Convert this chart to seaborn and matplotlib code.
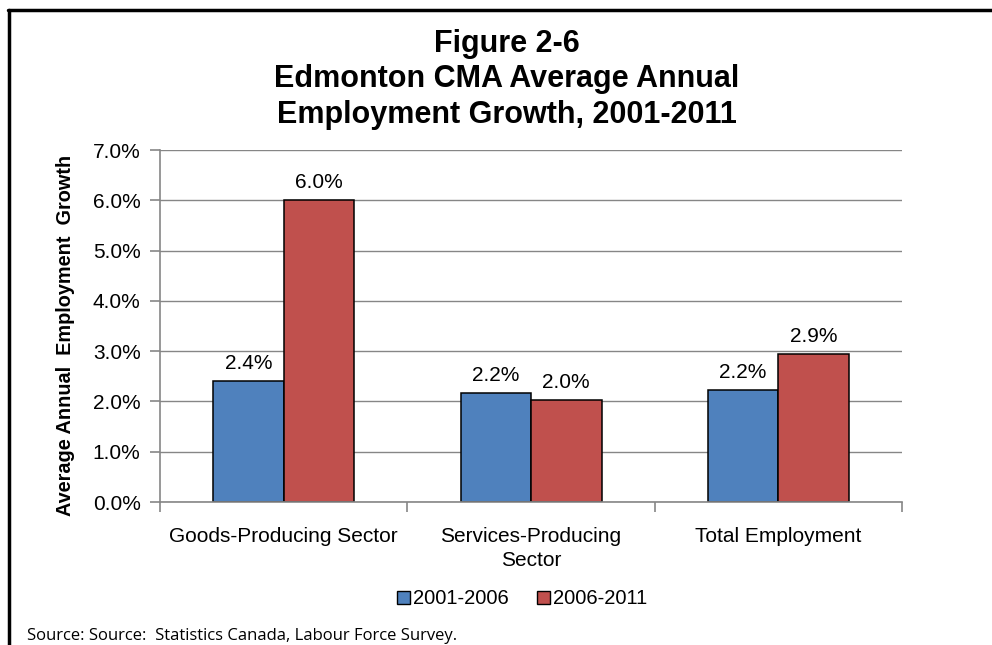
import matplotlib
matplotlib.use("Agg")
import matplotlib.pyplot as plt
from matplotlib.lines import Line2D
from matplotlib.ticker import FuncFormatter, FixedLocator
import seaborn as sns
import pandas as pd

# Employment growth data (percent per year)
sectors = ["Goods-Producing Sector", "Services-Producing\nSector", "Total Employment"]
periods = ["2001-2006", "2006-2011"]
growth_2001_2006 = [2.4, 2.17, 2.23]
growth_2006_2011 = [6.0, 2.03, 2.94]
y_ticks = [0, 1, 2, 3, 4, 5, 6, 7]

df = pd.DataFrame({
    "Sector": sectors * 2,
    "Period": [periods[0]] * 3 + [periods[1]] * 3,
    "Growth": growth_2001_2006 + growth_2006_2011,
})

sns.set_theme(style="white")
plt.rcParams["font.family"] = ["Liberation Sans", "DejaVu Sans"]
plt.rcParams["text.color"] = "black"
plt.rcParams["axes.labelcolor"] = "black"

fig = plt.figure(figsize=(9.92, 6.45), dpi=100)
ax = fig.add_axes([0.1613, 0.2217, 0.7480, 0.5457])

palette = {"2001-2006": "#4F81BD", "2006-2011": "#C0504D"}
sns.barplot(data=df, x="Sector", y="Growth", hue="Period", order=sectors,
            hue_order=periods, palette=palette, width=0.57, saturation=1,
            edgecolor="black", linewidth=1.1, ax=ax, legend=True)

ax.set_ylim(0, 7)
ax.set_xlim(-0.5, 2.5)
ax.yaxis.set_major_locator(FixedLocator(y_ticks))
ax.yaxis.set_major_formatter(FuncFormatter(lambda v, _: f"{v:.1f}%"))
ax.grid(axis="y", color="#868686", linewidth=1.0)
ax.set_axisbelow(True)

for side in ["top", "right"]:
    ax.spines[side].set_visible(False)
for side in ["left", "bottom"]:
    ax.spines[side].set_color("#868686")
    ax.spines[side].set_linewidth(1.2)

ax.tick_params(axis="y", which="major", length=7, width=1.2, color="#868686",
               labelsize=15, pad=7, left=True, labelcolor="black")
ax.tick_params(axis="x", which="major", length=0, labelsize=15, pad=18,
               labelcolor="black")
ax.set_xticks([-0.5, 0.5, 1.5, 2.5], minor=True)
ax.tick_params(axis="x", which="minor", length=7, width=1.2, color="#868686",
               bottom=True)
for lbl in ax.get_xticklabels():
    lbl.set_linespacing(1.35)
    lbl.set_verticalalignment("top")

ax.set_xlabel("")
ax.set_ylabel("Average Annual  Employment  Growth", fontsize=14.3, fontweight="bold")
ax.yaxis.set_label_coords(-0.1146, 0.474)

for container in ax.containers:
    ax.bar_label(container, fmt="%.1f%%", padding=6, fontsize=15)

leg = ax.legend(loc="center", bbox_to_anchor=(0.488, -0.275), ncol=2,
                frameon=False, fontsize=14.5, handlelength=0.65, handleheight=0.65,
                handletextpad=0.15, columnspacing=1.4)
for h in leg.legend_handles:
    h.set_edgecolor("black")
    h.set_linewidth(1.0)

fig.text(0.511, 0.877, "Figure 2-6\nEdmonton CMA Average Annual\nEmployment Growth, 2001-2011",
         ha="center", va="center", fontsize=22, fontweight="bold", linespacing=1.25)

fig.text(0.027, 0.001, "Source: Source:  Statistics Canada, Labour Force Survey.",
         ha="left", va="bottom", fontsize=12, family=["Open Sans", "DejaVu Sans"])

# outer frame (top and left edges)
fig.add_artist(Line2D([0.008, 1.0], [0.984, 0.984], color="black", linewidth=2.5,
                      transform=fig.transFigure))
fig.add_artist(Line2D([0.009, 0.009], [0.0, 0.985], color="black", linewidth=2.5,
                      transform=fig.transFigure))

fig.savefig("out.png", dpi=100, facecolor="white")
